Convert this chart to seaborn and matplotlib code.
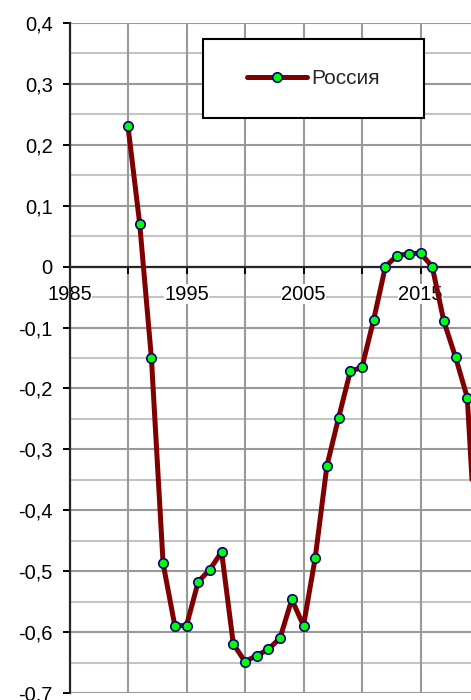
import matplotlib
matplotlib.use("Agg")
import matplotlib.pyplot as plt
import matplotlib.ticker as mticker
import seaborn as sns
from matplotlib.patches import Rectangle

sns.set_style("ticks")
plt.rcParams["font.family"] = ["Liberation Sans", "DejaVu Sans"]

YEARS = list(range(1990, 2021))
VALUES = [
    0.23, 0.07, -0.15, -0.487, -0.589, -0.589, -0.517, -0.497, -0.468, -0.619,
    -0.648, -0.638, -0.628, -0.609, -0.546, -0.589, -0.478, -0.327, -0.248, -0.172,
    -0.165, -0.087, 0.0, 0.018, 0.021, 0.022, 0.0, -0.09, -0.149, -0.215,
    -0.55,
]
SERIES_NAME = "Россия"
X_LABELED = [1985, 1995, 2005, 2015]


def fmt_y(v, pos):
    if abs(v) < 1e-9:
        return "0"
    return f"{v:.1f}".replace(".", ",")


def fmt_x(v, pos):
    return str(int(round(v))) if int(round(v)) in X_LABELED else ""


def main():
    fig = plt.figure(figsize=(4.71, 7.0), dpi=100)
    # axes run past the right edge, the reference is cropped there
    ax = fig.add_axes([69.5 / 471, 6.7 / 700, 468 / 471, 670.6 / 700])

    sns.lineplot(
        x=YEARS, y=VALUES, ax=ax, color="#800000", linewidth=3.6,
        marker="o", markersize=6.8, markerfacecolor="#00ff00",
        markeredgecolor="#000080", markeredgewidth=1.2, label=SERIES_NAME,
    )

    ax.set_xlim(1985, 2025)
    ax.set_ylim(-0.7, 0.4)

    ax.xaxis.set_major_locator(mticker.MultipleLocator(5))
    ax.xaxis.set_major_formatter(mticker.FuncFormatter(fmt_x))
    ax.yaxis.set_major_locator(mticker.MultipleLocator(0.1))
    ax.yaxis.set_minor_locator(mticker.MultipleLocator(0.05))
    ax.yaxis.set_major_formatter(mticker.FuncFormatter(fmt_y))

    ax.set_axisbelow(True)
    ax.grid(axis="x", which="major", color="#999999", linewidth=1.5)
    ax.grid(axis="y", which="major", color="#999999", linewidth=1.5)
    ax.grid(axis="y", which="minor", color="#c4c4c4", linewidth=1.5)
    ax.xaxis.set_zorder(1.5)

    for side in ["top", "right"]:
        ax.spines[side].set_visible(False)
    ax.spines["bottom"].set_position(("data", 0))
    ax.spines["bottom"].set_linewidth(1.6)
    ax.spines["left"].set_linewidth(1.6)
    ax.spines["bottom"].set_zorder(1.8)

    ax.tick_params(axis="y", which="major", length=5, width=1.4, pad=7,
                   labelsize=14.5, colors="black")
    ax.tick_params(axis="y", which="minor", length=0)
    ax.tick_params(axis="x", which="major", length=5, width=1.4, pad=8,
                   labelsize=14.5, colors="black")
    for lbl in ax.get_xticklabels():
        lbl.set_bbox(dict(facecolor="white", edgecolor="none", pad=0.5))

    ax.set_xlabel("")
    ax.set_ylabel("")

    # legend frame drawn as a plain box, legend itself centered inside
    box = Rectangle((203 / 471, 1 - 118 / 700), 221 / 471, 79 / 700,
                    transform=fig.transFigure, facecolor="white",
                    edgecolor="black", linewidth=1.5, zorder=4, clip_on=False)
    ax.add_patch(box)
    leg = ax.legend(loc="center", bbox_to_anchor=(313.5 / 471, 1 - 78.5 / 700),
                    bbox_transform=fig.transFigure, frameon=False, fontsize=15,
                    handlelength=2.9, handletextpad=0.2)
    leg.set_zorder(6)

    fig.savefig("out.png", dpi=100, facecolor="white")


if __name__ == "__main__":
    main()
